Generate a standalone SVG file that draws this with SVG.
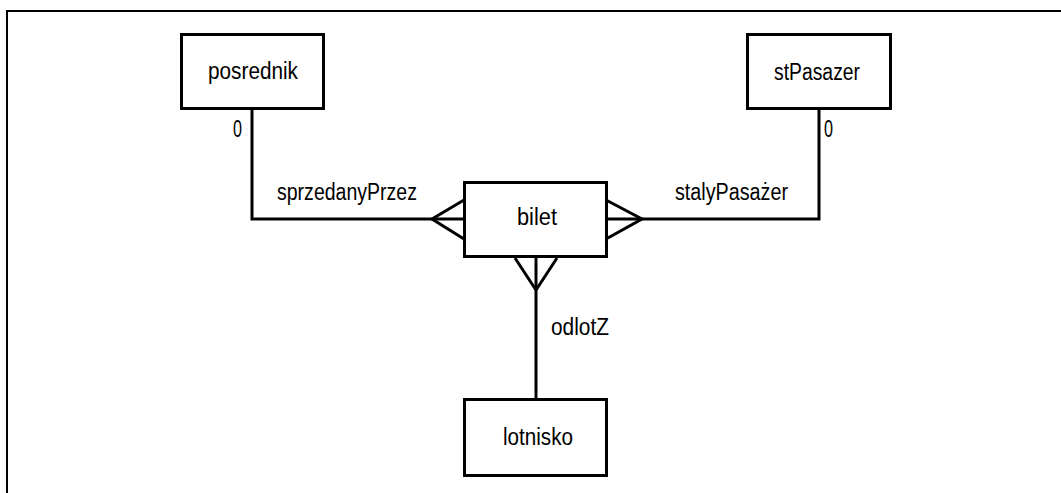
<svg xmlns="http://www.w3.org/2000/svg" width="1061" height="493" viewBox="0 0 1061 493">
<style>
.box{fill:#fff;stroke:#000;stroke-width:3}
.ln{fill:none;stroke:#000;stroke-width:3;stroke-linejoin:miter}
text{font-family:"Liberation Sans",Arial,sans-serif;font-size:23px;fill:#000}
</style>
<rect x="0" y="0" width="1061" height="493" fill="#fff"/>
<path d="M7 500 V11 H1070" fill="none" stroke="#000" stroke-width="2"/>
<g id="connectors">
<path class="ln" d="M252 110 V219 H464"/>
<path class="ln" d="M464 200 L432 219 L464 239"/>
<path class="ln" d="M819 110 V219 H606"/>
<path class="ln" d="M606 200 L642 219 L606 239"/>
<path class="ln" d="M536 258 V398"/>
<path class="ln" d="M515 258 L536 290 L557 258"/>
<text x="233" y="137" textLength="9" lengthAdjust="spacingAndGlyphs">0</text>
<text x="824" y="137" textLength="9" lengthAdjust="spacingAndGlyphs">0</text>
<text x="277" y="200" textLength="140" lengthAdjust="spacingAndGlyphs">sprzedanyPrzez</text>
<text x="675" y="200" textLength="113" lengthAdjust="spacingAndGlyphs">stalyPasażer</text>
<text x="551" y="335" textLength="58" lengthAdjust="spacingAndGlyphs">odlotZ</text>
</g>
<g id="posrednik">
<rect class="box" x="181.5" y="34.5" width="142" height="74"/>
<text x="208" y="79" textLength="90" lengthAdjust="spacingAndGlyphs">posrednik</text>
</g>
<g id="stPasazer">
<rect class="box" x="747.5" y="34.5" width="143" height="74"/>
<text x="774" y="80" textLength="86" lengthAdjust="spacingAndGlyphs">stPasazer</text>
</g>
<g id="bilet">
<rect class="box" x="464.5" y="182.5" width="142" height="74"/>
<text x="517" y="225" textLength="40" lengthAdjust="spacingAndGlyphs">bilet</text>
</g>
<g id="lotnisko">
<rect class="box" x="464.5" y="399.5" width="142" height="76"/>
<text x="503" y="445" textLength="70" lengthAdjust="spacingAndGlyphs">lotnisko</text>
</g>
</svg>
